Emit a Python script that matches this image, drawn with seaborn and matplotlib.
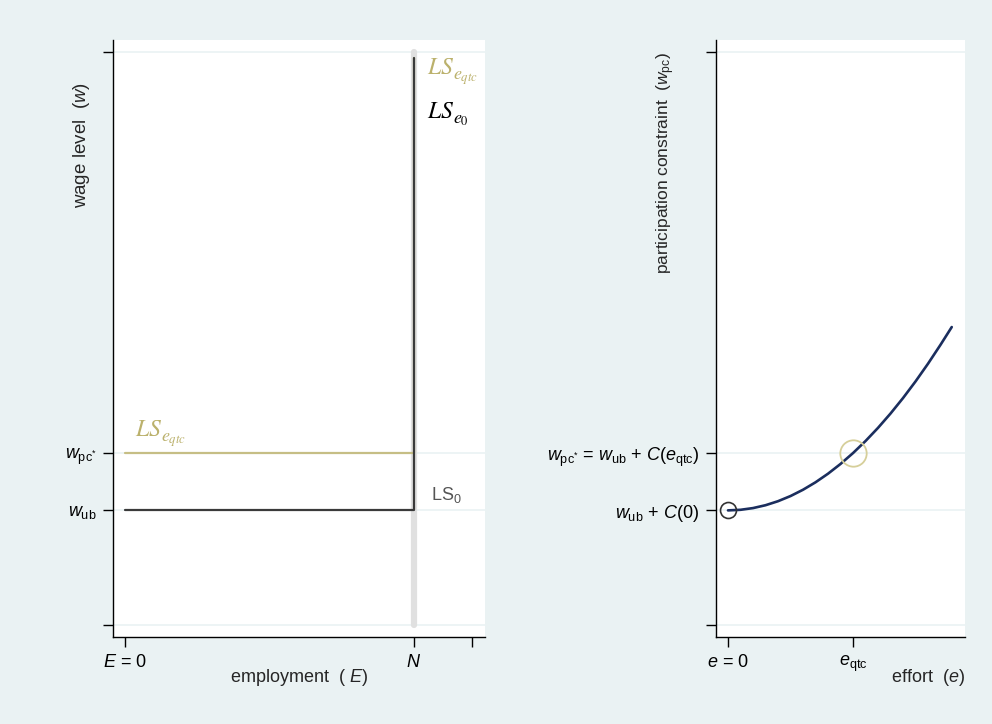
import numpy as np
import matplotlib
matplotlib.use("Agg")
import matplotlib.pyplot as plt
import seaborn as sns
import pandas as pd

# Left panel: labour supply in the (E, w) plane
E_ticks = [0, 10, 12]
E_labels = ["$E$ = 0", "$N$", ""]
w_ticks = [0, 2, 3, 10]
w_labels_left = ["", "$w_{\\mathrm{ub}}$", "$w_{\\mathrm{pc}^{*}}$", ""]

ls0_E = [0, 10, 10]
ls0_w = [2, 2, 9.9]
lsq_E = [0, 10, 10]
lsq_w = [3, 3, 9.9]
full_E = [10, 10]
full_w = [0, 10]

# Right panel: participation constraint against effort
e_ticks = [0, 1]
e_labels = ["$e$ = 0", "$e_{\\mathrm{qtc}}$"]
w_labels_right = ["", "$w_{\\mathrm{ub}}$ + $C$(0)",
                  "$w_{\\mathrm{pc}^{*}}$ = $w_{\\mathrm{ub}}$ + $C$($e_{\\mathrm{qtc}}$)", ""]
pc_e = [0, 0.1, 0.2, 0.3, 0.4, 0.5, 0.6, 0.7, 0.8, 0.9, 1.0,
        1.1, 1.2, 1.3, 1.4, 1.5, 1.6, 1.7, 1.79]
pc_w = [2.0, 2.01, 2.04, 2.09, 2.16, 2.25, 2.36, 2.49, 2.64, 2.81, 3.0,
        3.21, 3.44, 3.69, 3.96, 4.25, 4.56, 4.89, 5.2]

BG = "#EAF2F3"
KHAKI = "#C6BE85"
KHAKI_TXT = "#BBB16C"
NAVY = "#1B2E5E"
DARK = "#3A3A3A"

sns.set_theme(style="white")
plt.rcParams["font.family"] = ["Liberation Sans", "DejaVu Sans"]
plt.rcParams["mathtext.fontset"] = "custom"
plt.rcParams["mathtext.rm"] = "Liberation Sans"
plt.rcParams["mathtext.it"] = "Liberation Sans:italic"
plt.rcParams["mathtext.bf"] = "Liberation Sans:bold"

fig = plt.figure(figsize=(9.92, 7.24), dpi=100, facecolor=BG)
axL = fig.add_axes([113 / 992, 1 - 637 / 724, (485 - 113) / 992, (637 - 40) / 724])
axR = fig.add_axes([716 / 992, 1 - 637 / 724, (965 - 716) / 992, (637 - 40) / 724])

for ax in (axL, axR):
    ax.set_facecolor("white")
    for s in ("top", "right"):
        ax.spines[s].set_visible(False)
    for s in ("left", "bottom"):
        ax.spines[s].set_color("black")
        ax.spines[s].set_linewidth(1)
    ax.set_ylim(-0.21, 10.21)
    ax.set_yticks(w_ticks)
    for y in w_ticks:
        ax.axhline(y, color=BG, lw=1.2, zorder=0)
    ax.tick_params(axis="both", direction="out", length=7, width=1, color="black",
                   labelsize=13, labelcolor="black", left=True, bottom=True, pad=5)

# left panel
df_full = pd.DataFrame({"E": full_E, "w": full_w})
sns.lineplot(data=df_full, x="E", y="w", ax=axL, color="#E0E0E0", lw=4.5,
             estimator=None, sort=False, solid_capstyle="round")
df_q = pd.DataFrame({"E": lsq_E, "w": lsq_w})
sns.lineplot(data=df_q, x="E", y="w", ax=axL, color=KHAKI, lw=1.6,
             estimator=None, sort=False)
df_0 = pd.DataFrame({"E": ls0_E, "w": ls0_w})
sns.lineplot(data=df_0, x="E", y="w", ax=axL, color=DARK, lw=1.6,
             estimator=None, sort=False)

axL.set_xlim(-0.415, 12.46)
axL.set_xticks(E_ticks)
axL.set_xticklabels(E_labels)
axL.set_yticklabels(w_labels_left)
axL.set_xlabel("")
axL.set_ylabel("")


def ls_label(ax, x, y, sub, color):
    # "LS" with a larger-than-default subscript, as in the original
    ax.text(x, y, "$LS$", color=color, fontsize=17, math_fontfamily="stix",
            va="baseline", ha="left")
    ax.annotate(sub, (x, y), xytext=(19, -4), textcoords="offset points",
                color=color, fontsize=13, math_fontfamily="stix",
                va="baseline", ha="left")


ls_label(axL, 0.35, 3.3, "$e_{qtc}$", KHAKI_TXT)
ls_label(axL, 10.45, 9.62, "$e_{qtc}$", KHAKI_TXT)
ls_label(axL, 10.45, 8.85, "$e_0$", "black")
axL.text(10.6, 2.18, "LS$_0$", color="#555555", fontsize=13,
         va="baseline", ha="left")

# right panel
df_pc = pd.DataFrame({"e": pc_e, "w": pc_w})
sns.lineplot(data=df_pc, x="e", y="w", ax=axR, color=NAVY, lw=1.9,
             estimator=None, sort=False)
axR.plot([pc_e[0]], [pc_w[0]], "o", ms=11.5, mfc="none", mec="#333333", mew=1.2)
axR.plot([pc_e[10]], [pc_w[10]], "o", ms=19, mfc="none", mec="#D6CF9A", mew=1.3)

axR.set_xlim(-0.096, 1.896)
axR.set_xticks(e_ticks)
axR.set_xticklabels(e_labels)
axR.set_yticklabels(w_labels_right)
axR.set_xlabel("")
axR.set_ylabel("")

# axis titles
fig.text(299 / 992, 1 - 678 / 724, "employment  ( $E$)", ha="center", va="center",
         fontsize=13)
fig.text(965 / 992, 1 - 678 / 724, "effort  ($e$)", ha="right", va="center",
         fontsize=13)
fig.text(81 / 992, 1 - 82 / 724, "wage level  ($w$)", rotation=90, ha="center",
         va="top", fontsize=13.5)
fig.text(666 / 992, 1 - 52 / 724, "participation constraint  ($w_{\\mathrm{pc}}$)",
         rotation=90, ha="center", va="top", fontsize=12.5)

fig.savefig("out.png", dpi=100, facecolor=BG)
